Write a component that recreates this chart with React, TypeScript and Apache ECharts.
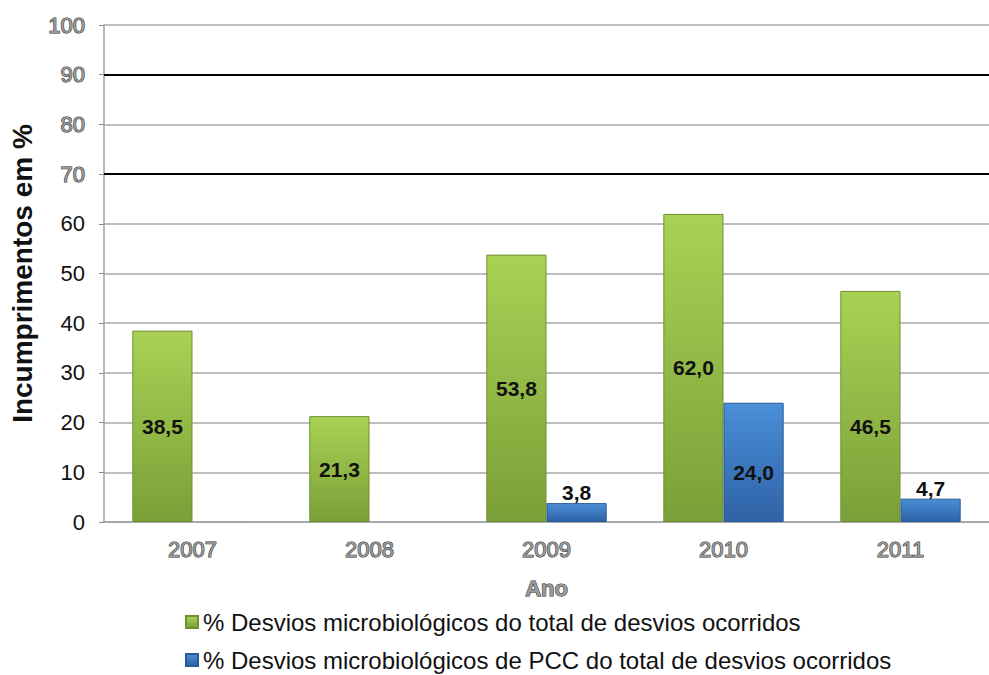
import React, { useEffect, useRef } from "react";
import * as echarts from "echarts";

const categories = ["2007", "2008", "2009", "2010", "2011"];
const seriesNames = [
  "% Desvios microbiológicos do total de desvios ocorridos",
  "% Desvios microbiológicos de PCC do total de desvios ocorridos",
];
const greenValues = [38.5, 21.3, 53.8, 62.0, 46.5];
const blueValues: (number | null)[] = [null, null, 3.8, 24.0, 4.7];
const highlightLines = [70, 90];

const fmt = (v: number) => v.toFixed(1).replace(".", ",");
const FONT = "Liberation Sans, Arial, sans-serif";

export default function App() {
  const ref = useRef<HTMLDivElement>(null);
  useEffect(() => {
    if (!ref.current) return;
    const chart = echarts.init(ref.current, null, { renderer: "svg" });
    const outlined = {
      color: "#9a9a9a",
      textBorderColor: "#2a2a2a",
      textBorderWidth: 1,
      fontFamily: FONT,
      fontSize: 22,
    };
    const green = new echarts.graphic.LinearGradient(0, 0, 0, 1, [
      { offset: 0, color: "#a9d254" },
      { offset: 1, color: "#7b9f38" },
    ]);
    const blue = new echarts.graphic.LinearGradient(0, 0, 0, 1, [
      { offset: 0, color: "#4a8fd8" },
      { offset: 1, color: "#2f62a6" },
    ]);
    const legendText = { fontFamily: FONT, fontSize: 24, color: "#111", padding: [0, 0, 0, 0] };
    chart.setOption({
      animation: false,
      grid: { left: 104, right: -5, top: 25, bottom: 153, containLabel: false },
      legend: [
        {
          left: 185,
          top: 610,
          padding: 0,
          itemWidth: 12,
          itemHeight: 12,
          itemGap: 6,
          icon: "rect",
          textStyle: legendText,
          data: [seriesNames[0]],
        },
        {
          left: 185,
          top: 648,
          padding: 0,
          itemWidth: 12,
          itemHeight: 12,
          icon: "rect",
          textStyle: legendText,
          data: [seriesNames[1]],
        },
      ],
      xAxis: {
        type: "category",
        data: categories,
        name: "Ano",
        nameLocation: "middle",
        nameGap: 55,
        nameTextStyle: { ...outlined, fontWeight: "bold", fontSize: 22 },
        axisLine: { lineStyle: { color: "#a0a0a0", width: 1.5 } },
        axisTick: { show: false },
        axisLabel: { ...outlined, margin: 16 },
      },
      yAxis: {
        type: "value",
        min: 0,
        max: 100,
        interval: 10,
        name: "Incumprimentos em %",
        nameLocation: "middle",
        nameGap: 67,
        nameTextStyle: {
          fontFamily: FONT,
          fontWeight: "bold",
          fontSize: 28,
          color: "#111",
        },
        axisLine: { show: true, lineStyle: { color: "#a0a0a0", width: 1.5 } },
        axisTick: { show: true, length: 5, lineStyle: { color: "#888" } },
        axisLabel: {
          margin: 19,
          fontFamily: FONT,
          fontSize: 22,
          color: "#111",
          formatter: (v: number) => (v >= 70 ? `{o|${v}}` : `${v}`),
          rich: { o: { ...outlined } },
        },
        splitLine: { lineStyle: { color: "#a8a8a8", width: 1.5 } },
      },
      series: [
        {
          name: seriesNames[0],
          type: "bar",
          data: greenValues.map((v, i) => (i === 4 ? { value: v, label: { offset: [0, 20] } } : v)),
          barGap: "0%",
          barCategoryGap: "32%",
          itemStyle: { color: green, borderColor: "#6f9030", borderWidth: 1 },
          label: {
            show: true,
            position: "inside",
            formatter: (p: any) => fmt(p.value),
            fontFamily: FONT,
            fontWeight: "bold",
            fontSize: 21,
            color: "#111",
          },
          markLine: {
            silent: true,
            symbol: "none",
            label: { show: false },
            lineStyle: { color: "#000", width: 2, type: "solid" },
            data: highlightLines.map((v) => ({ yAxis: v })),
          },
        },
        {
          name: seriesNames[1],
          type: "bar",
          data: blueValues.map((v) =>
            v === null
              ? null
              : v > 10
              ? { value: v, label: { position: "inside", offset: [0, 10] } }
              : { value: v, label: { position: "top", distance: 0 } }
          ),
          itemStyle: { color: blue, borderColor: "#2a5a98", borderWidth: 1 },
          label: {
            show: true,
            formatter: (p: any) => fmt(p.value),
            fontFamily: FONT,
            fontWeight: "bold",
            fontSize: 21,
            color: "#111",
          },
        },
      ],
    });
    return () => chart.dispose();
  }, []);
  return <div ref={ref} style={{ width: 989, height: 675, position: "absolute", left: 0, top: 0 }} />;
}
